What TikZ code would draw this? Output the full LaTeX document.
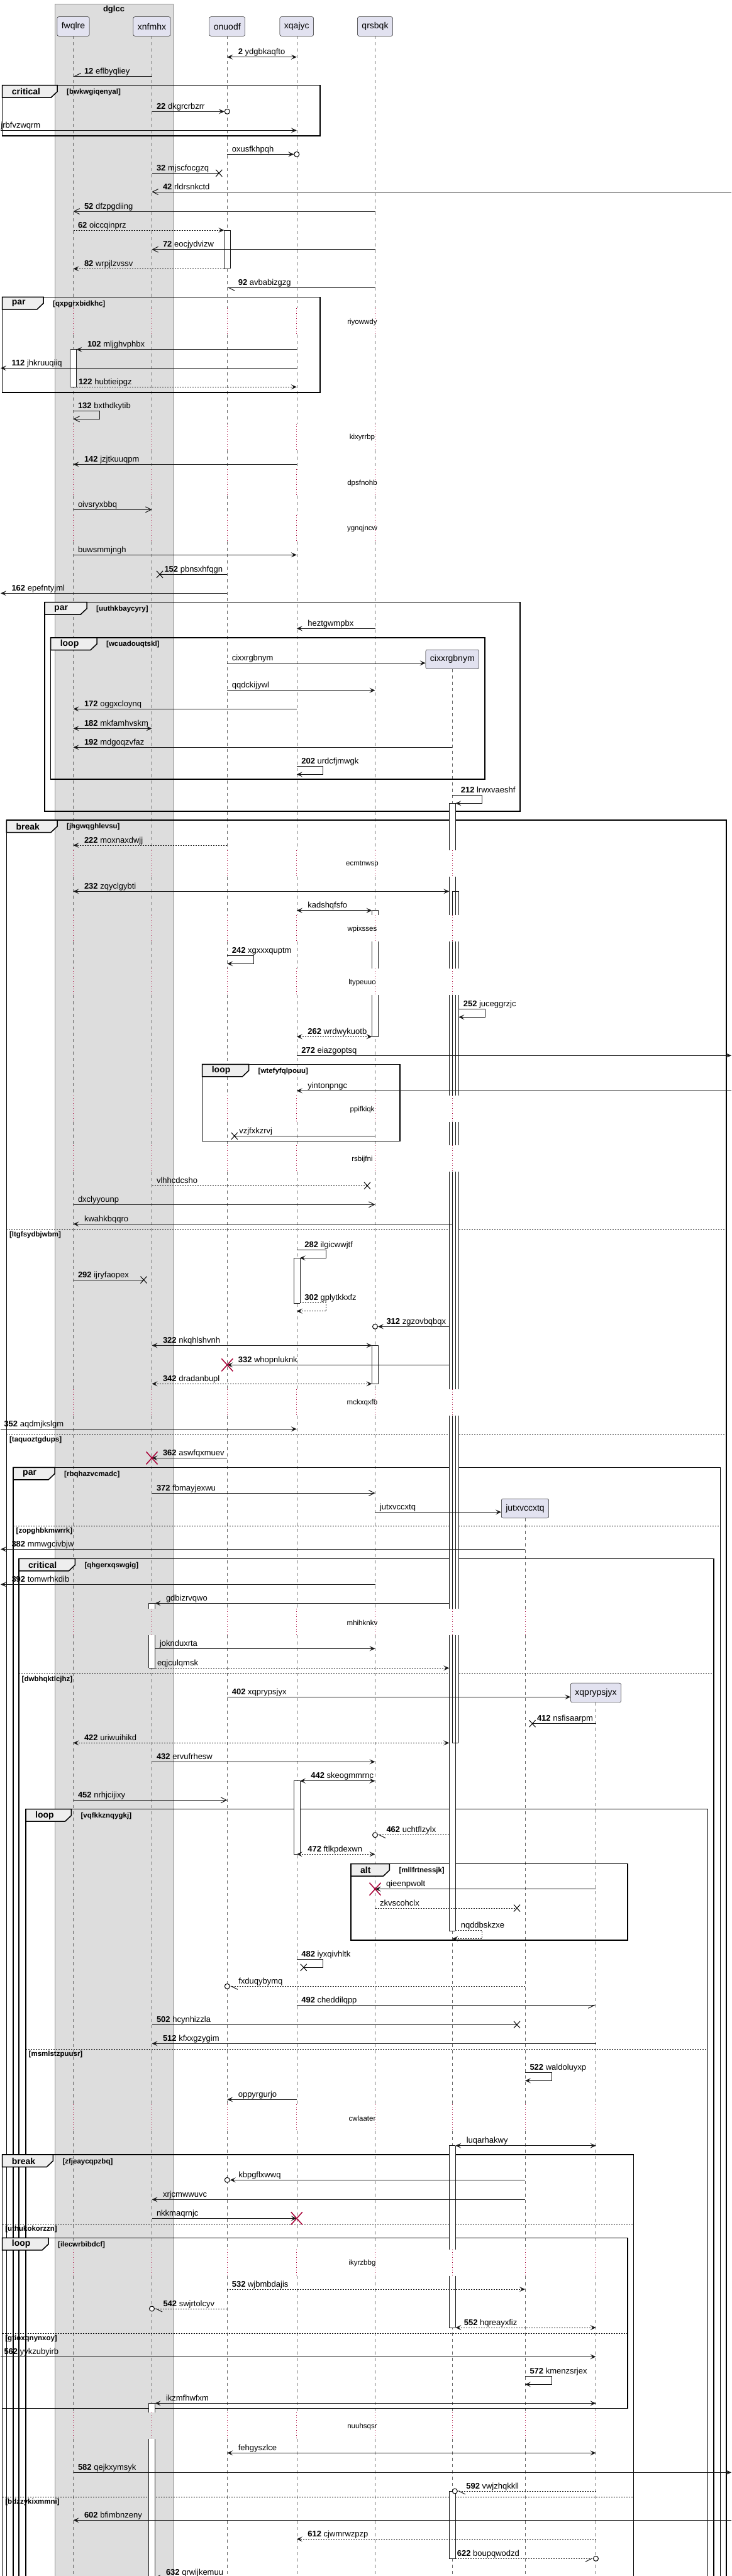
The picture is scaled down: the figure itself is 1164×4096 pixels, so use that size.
\documentclass[tikz,border=0pt]{standalone}
\usepackage{fontspec}
\setmainfont{Liberation Sans}
\usetikzlibrary{arrows.meta,calc}

\definecolor{partfill}{HTML}{E2E2F0}
\definecolor{partline}{HTML}{181818}
\definecolor{boxfill}{HTML}{DDDDDD}
\definecolor{crimson}{HTML}{A80036}
\definecolor{tabfill}{HTML}{EEEEEE}

\newcommand\sqn[1]{\textbf{#1}\ }
\newcommand\grp[7]{%
  \draw[frm] (#1,#3) rectangle (#2,#4);
  \filldraw[tab] (#1,#3) -- (#5,#3) -- (#5,#3+10) -- (#5-10,#3+19.5) -- (#1,#3+19.5) -- cycle;
  \node[tabtxt] at (#1+15,#3+10) {#6};
  \node[guard] at (#5+15,#3+11) {#7};}
\newcommand\grpsep[4]{%
  \draw[sep] (#1,#3) -- (#2,#3);
  \node[guard] at (#1+4.5,#3+8.5) {#4};}
\newcommand\actfill[4]{\fill[white] ($(#1 |- 0,#3)+(#2,0)$) rectangle ($(#1 |- 0,#4)+(#2+10,0)$);}
\newcommand\actedge[4]{\draw[actl] ($(#1 |- 0,#3)+(#2,0)$) -- ($(#1 |- 0,#4)+(#2,0)$) ($(#1 |- 0,#3)+(#2+10,0)$) -- ($(#1 |- 0,#4)+(#2+10,0)$);}
\newcommand\actbar[4]{\actfill{#1}{#2}{#3}{#4}\actedge{#1}{#2}{#3}{#4}}
\newcommand\actcap[3]{\draw[actl] ($(#1 |- 0,#3)+(#2,0)$) -- ++(10,0);}

\tikzset{
  part/.style={draw=partline, fill=partfill, rounded corners=2.5pt, line width=0.5pt, minimum height=30.6pt, inner xsep=7pt, font=\fontsize{14}{16}\selectfont},
  life/.style={draw=black!60, line width=0.6pt, dash pattern=on 5pt off 5pt},
  lifedot/.style={draw=crimson, line width=0.7pt, dash pattern=on 1pt off 3pt},
  actl/.style={draw=partline, line width=0.6pt},
  m/.style={line width=1pt, draw=partline},
  dm/.style={m, dash pattern=on 2pt off 2pt},
  fa/.style={-{Stealth[length=9pt,width=8pt,inset=4pt]}},
  fb/.style={{Stealth[length=9pt,width=8pt,inset=4pt]}-{Stealth[length=9pt,width=8pt,inset=4pt]}},
  oa/.style={-{Straight Barb[length=9pt,width=9pt]}},
  ha/.style={-{Straight Barb[harpoon,length=10pt,width=10pt]}},
  hs/.style={-{Straight Barb[harpoon,swap,length=10pt,width=10pt]}},
  lbA/.style={anchor=base west, inner sep=0pt, xshift=7pt, yshift=4pt, font=\fontsize{13}{15}\selectfont},
  lbB/.style={lbA, xshift=10pt},
  frm/.style={line width=1.5pt},
  tab/.style={fill=tabfill, draw, line width=1.5pt},
  tabtxt/.style={anchor=west, inner sep=0pt, font=\bfseries\fontsize{14}{16}\selectfont},
  guard/.style={anchor=west, inner sep=0pt, font=\bfseries\fontsize{11.5}{13}\selectfont},
  sep/.style={line width=1pt, dash pattern=on 2pt off 2pt},
  dly/.style={inner sep=0pt, font=\fontsize{11.5}{13}\selectfont},
  lost/.pic={\draw[line width=1pt] (-5,-5.5) -- (5,5.5) (-5,5.5) -- (5,-5.5);},
  kill/.pic={\draw[crimson, line width=1.5pt] (-9,-10) -- (9,10) (-9,10) -- (9,-10);},
  ring/.pic={\draw[line width=1pt, fill=white] (0,0) circle[radius=4pt];},
}

\begin{document}
\begin{tikzpicture}[x=1pt,y=-1pt]
\useasboundingbox (0,0) rectangle (1164,4096);
\coordinate (L) at (1,0); \coordinate (R) at (1163,0);

\filldraw[fill=boxfill, draw=black!45, line width=0.5pt] (87,6) rectangle (275,4120);
\node[font=\bfseries\fontsize{13}{15}\selectfont] (dglcc) at (181,15.5) {dglcc};

\node[part] (fwqlre) at (116.5,42) {fwqlre};
\node[part] (xnfmhx) at (241.5,42) {xnfmhx};
\node[part] (onuodf) at (361.3,42) {onuodf};
\node[part] (xqajyc) at (471.8,42) {xqajyc};
\node[part] (qrsbqk) at (596.5,42) {qrsbqk};
\node[part] (cixxrgbnym) at (719.3,1048.3) {cixxrgbnym};
\node[part] (jutxvccxtq) at (835,2398.5) {jutxvccxtq};
\node[part] (xqprypsjyx) at (947.5,2691.5) {xqprypsjyx};

\foreach \p/\s in {fwqlre/57.3,xnfmhx/57.3,onuodf/57.3,xqajyc/57.3,qrsbqk/57.3,cixxrgbnym/1063.6,jutxvccxtq/2413.8,xqprypsjyx/2706.8}{
  \foreach \a/\b in {57.3/490.3,532.3/674,716/746.3,788.3/818.7,860.7/1352.3,1394.3/1455.3,1497.3/1540.3,1582.3/1742.3,1784.3/1821.3,1863.3/2208.7,2250.7/2558,2600/3346.3,3388.3/3576.7,3618.7/3836.3,3878.3/4120}{
    \pgfmathsetmacro\ya{max(\a,\s)}\pgfmathsetmacro\yb{max(\b,\s)}
    \draw[life] (\p |- 0,\ya) -- (\p |- 0,\yb);}
  \foreach \c in {512.3,696,768.3,840.7,1374.3,1477.3,1562.3,1764.3,1843.3,2230.7,2580,3368.3,3598.7,3858.3}{
    \pgfmathsetmacro\ya{max(\c-22,\s)}\pgfmathsetmacro\yb{max(\c+20,\s)}
    \draw[lifedot] (\p |- 0,\ya) -- (\p |- 0,\yb);}
}
\foreach \c/\t [count=\i] in {512.3/riyowwdy,696/kixyrrbp,768.3/dpsfnohb,840.7/ygnqjncw,1374.3/ecmtnwsp,1477.3/wpixsses,1562.3/ltypeuuo,1764.3/ppifkiqk,1843.3/rsbijfni,2230.7/mckxqxfb,2580/mhihknkv,3368.3/cwlaater,3598.7/ikyrzbbg,3858.3/nuuhsqsr}
  \node[dly] (delay\i) at (576,\c) {\t};

\grp{3.7}{509}{135.7}{216}{91}{critical}{[bwkwgiqenyal]}
\grp{3.7}{509}{472.3}{624}{69}{par}{[qxpgrxbidkhc]}
\grp{71}{827}{957.7}{1290}{138}{par}{[uuthkbaycyry]}
\grp{80.6}{771}{1014}{1239}{154}{loop}{[wcuadouqtskl]}
\grp{10.4}{1155}{1304}{4120}{91}{break}{[jhgwqghlevsu]}
\grp{321.6}{635.8}{1692.3}{1814.3}{395.5}{loop}{[wtefyfqlpouu]}
\grp{21}{1145.5}{2333.3}{4120}{87}{par}{[rbqhazvcmadc]}
\grp{30}{1135}{2478.3}{4120}{119.4}{critical}{[qhgerxqswgig]}
\grp{41}{1125.4}{2876.7}{4120}{113.4}{loop}{[vqfkkznqygkj]}
\grp{558}{997.8}{2963.7}{3085}{619.4}{alt}{[mllfrtnessjk]}
\grp{3.7}{1007.5}{3426}{4120}{84.3}{break}{[zfjeaycqpzbq]}
\grp{3.7}{997.8}{3558.3}{3829.3}{77}{loop}{[ilecwrbibdcf]}
\grpsep{10.4}{1155}{1955.3}{[ltgfsydbjwbm]}
\grpsep{10.4}{1155}{2281}{[taquoztgdups]}
\grpsep{21}{1145.5}{2426}{[zopghbkmwrrk]}
\grpsep{30}{1135}{2661.7}{[dwbhqktlcjhz]}
\grpsep{41}{1125.4}{3258.3}{[msmlstzpuusr]}
\grpsep{3.7}{1007.5}{3536.3}{[uthukokorzzn]}
\grpsep{3.7}{997.8}{3710}{[gtioxqnynxoy]}
\grpsep{3.7}{1007.5}{3970.3}{[bdzzykixmmni]}

\actbar{onuodf}{-5}{366}{427.3}\actcap{onuodf}{-5}{366}\actcap{onuodf}{-5}{427.3}
\actbar{fwqlre}{-5}{555.7}{615.3}\actcap{fwqlre}{-5}{555.7}\actcap{fwqlre}{-5}{615.3}
\foreach \a/\b in {1277.3/1352.3,1394.3/1455.3,1497.3/1540.3,1582.3/1742.3,1784.3/1821.3,1863.3/2208.7,2250.7/2558,2600/3070}{\actfill{cixxrgbnym}{-5}{\a}{\b}}
\foreach \a/\b in {1417.3/1455.3,1497.3/1540.3,1582.3/1742.3,1784.3/1821.3,1863.3/2208.7,2250.7/2558,2600/2771.3}{\actfill{cixxrgbnym}{0}{\a}{\b}}
\foreach \a/\b in {1277.3/1352.3,1394.3/1455.3,1497.3/1540.3,1582.3/1742.3,1784.3/1821.3,1863.3/2208.7,2250.7/2558,2600/3070}{\actedge{cixxrgbnym}{-5}{\a}{\b}}
\foreach \a/\b in {1417.3/1455.3,1497.3/1540.3,1582.3/1742.3,1784.3/1821.3,1863.3/2208.7,2250.7/2558,2600/2771.3}{\actedge{cixxrgbnym}{0}{\a}{\b}}
\actcap{cixxrgbnym}{-5}{1277.3}\actcap{cixxrgbnym}{-5}{3070}\actcap{cixxrgbnym}{0}{1417.3}\actcap{cixxrgbnym}{0}{2771.3}
\foreach \a/\b in {1447.7/1455.3,1497.3/1540.3,1582.3/1648.3}{\actbar{qrsbqk}{-5}{\a}{\b}}
\actcap{qrsbqk}{-5}{1447.7}\actcap{qrsbqk}{-5}{1648.3}
\actbar{xqajyc}{-5}{2000.3}{2072.3}\actcap{xqajyc}{-5}{2000.3}\actcap{xqajyc}{-5}{2072.3}
\actbar{qrsbqk}{-5}{2139.3}{2200.3}\actcap{qrsbqk}{-5}{2139.3}\actcap{qrsbqk}{-5}{2200.3}
\actbar{xnfmhx}{-5}{2549.3}{2558}\actbar{xnfmhx}{-5}{2600}{2652.3}\actcap{xnfmhx}{-5}{2549.3}\actcap{xnfmhx}{-5}{2652.3}
\actbar{xqajyc}{-5}{2831.7}{2948.3}\actcap{xqajyc}{-5}{2831.7}\actcap{xqajyc}{-5}{2948.3}
\actbar{cixxrgbnym}{-5}{3411.7}{3576.7}\actbar{cixxrgbnym}{-5}{3618.7}{3701}\actcap{cixxrgbnym}{-5}{3411.7}\actcap{cixxrgbnym}{-5}{3701}
\actbar{xnfmhx}{-5}{3821.3}{3836.3}\actbar{xnfmhx}{-5}{3878.3}{4120}\actcap{xnfmhx}{-5}{3821.3}
\actbar{cixxrgbnym}{-5}{3961}{4068.3}\actcap{cixxrgbnym}{-5}{3961}\actcap{cixxrgbnym}{-5}{4068.3}

\draw[m,fb] (onuodf |- 0,90.7) node[lbB]{\sqn{2}ydgbkaqfto} -- (xqajyc |- 0,90.7);
\draw[m,hs] (xnfmhx |- 0,121.3) -- (fwqlre |- 0,121.3) node[lbB]{\sqn{12}eflbyqliey};
\draw[m,fa] (xnfmhx |- 0,177.3) node[lbA]{\sqn{22}dkgrcrbzrr} -- ($(onuodf |- 0,177.3)+(-4.5,0)$);
\pic at (onuodf |- 0,177.3) {ring};
\draw[m,fa] (L |- 0,207.3) node[lbA,xshift=-7pt]{jrbfvzwqrm} -- (xqajyc |- 0,207.3);
\draw[m,fa] (onuodf |- 0,245.3) node[lbA]{oxusfkhpqh} -- ($(xqajyc |- 0,245.3)+(-4.5,0)$);
\pic at (xqajyc |- 0,245.3) {ring};
\draw[m] (xnfmhx |- 0,275.3) node[lbA]{\sqn{32}mjscfocgzq} -- ($(onuodf |- 0,275.3)+(-13,0)$);
\pic at ($(onuodf |- 0,275.3)+(-13,0)$) {lost};
\draw[m,oa] (R |- 0,305) -- (xnfmhx |- 0,305) node[lbB]{\sqn{42}rldrsnkctd};
\draw[m,oa] (qrsbqk |- 0,336) -- (fwqlre |- 0,336) node[lbB]{\sqn{52}dfzpgdiing};
\draw[dm,fa] (fwqlre |- 0,366) node[lbA]{\sqn{62}oiccqinprz} -- ($(onuodf |- 0,366)+(-5,0)$);
\draw[m,oa] (qrsbqk |- 0,396.7) -- (xnfmhx |- 0,396.7) node[lbB]{\sqn{72}eocjydvizw};
\draw[dm,fa] ($(onuodf |- 0,427.3)+(-5,0)$) -- (fwqlre |- 0,427.3) node[lbB]{\sqn{82}wrpjlzvssv};
\draw[m,ha] (qrsbqk |- 0,457.3) -- (onuodf |- 0,457.3) node[lbB]{\sqn{92}avbabizgzg};
\draw[m,fa] (xqajyc |- 0,555.7) -- ($(fwqlre |- 0,555.7)+(5,0)$) node[lbB]{\sqn{102}mljghvphbx};
\draw[m,fa] (xqajyc |- 0,585.3) -- (L |- 0,585.3) node[lbB]{\sqn{112}jhkruuqiiq};
\draw[dm,fa] ($(fwqlre |- 0,615.3)+(5,0)$) node[lbA,xshift=-4pt]{\sqn{122}hubtieipgz} -- (xqajyc |- 0,615.3);
\draw[m,oa] (fwqlre |- 0,653.3) node[lbA]{\sqn{132}bxthdkytib} -- ++(42,0) -- ++(0,13) -- (fwqlre |- 0,666.3);
\draw[m,fa] (xqajyc |- 0,738.3) -- (fwqlre |- 0,738.3) node[lbB]{\sqn{142}jzjtkuuqpm};
\draw[m,oa] (fwqlre |- 0,810.3) node[lbA]{oivsryxbbq} -- (xnfmhx |- 0,810.3);
\draw[m,fa] (fwqlre |- 0,882.3) node[lbA]{buwsmmjngh} -- (xqajyc |- 0,882.3);
\draw[m] (onuodf |- 0,913.3) -- ($(xnfmhx |- 0,913.3)+(12.5,0)$) node[lbA]{\sqn{152}pbnsxhfqgn};
\pic at ($(xnfmhx |- 0,913.3)+(12.5,0)$) {lost};
\draw[m,fa] (onuodf |- 0,943.3) -- (L |- 0,943.3) node[lbB]{\sqn{162}epefntyjml};
\draw[m,fa] (qrsbqk |- 0,999.3) -- (xqajyc |- 0,999.3) node[lbB]{heztgwmpbx};
\draw[m,fa] (onuodf |- 0,1054.3) node[lbA]{cixxrgbnym} -- (cixxrgbnym.west |- 0,1054.3);
\draw[m,fa] (onuodf |- 0,1097.7) node[lbA]{qqdckijywl} -- (qrsbqk |- 0,1097.7);
\draw[m,fa] (xqajyc |- 0,1127.3) -- (fwqlre |- 0,1127.3) node[lbB]{\sqn{172}oggxcloynq};
\draw[m,fb] (fwqlre |- 0,1158.3) node[lbB]{\sqn{182}mkfamhvskm} -- (xnfmhx |- 0,1158.3);
\draw[m,fa] (cixxrgbnym |- 0,1188.3) -- (fwqlre |- 0,1188.3) node[lbB]{\sqn{192}mdgoqzvfaz};
\draw[m,fa] (xqajyc |- 0,1218.3) node[lbA]{\sqn{202}urdcfjmwgk} -- ++(42,0) -- ++(0,13) -- (xqajyc |- 0,1231.3);
\draw[m,fa] (cixxrgbnym |- 0,1264.3) node[lbA,xshift=6pt]{\sqn{212}lrwxvaeshf} -- ++(47,0) -- ++(0,13) -- ($(cixxrgbnym |- 0,1277.3)+(5,0)$);
\draw[dm,fa] (onuodf |- 0,1344) -- (fwqlre |- 0,1344) node[lbB]{\sqn{222}moxnaxdwjj};
\draw[m,fb] (fwqlre |- 0,1417.3) node[lbB]{\sqn{232}zqyclgybti} -- ($(cixxrgbnym |- 0,1417.3)+(-5,0)$);
\draw[m,fb] (xqajyc |- 0,1447.7) node[lbB]{kadshqfsfo} -- ($(qrsbqk |- 0,1447.7)+(-5,0)$);
\draw[m,fa] (onuodf |- 0,1519.3) node[lbA]{\sqn{242}xgxxxquptm} -- ++(42,0) -- ++(0,13) -- (onuodf |- 0,1532.3);
\draw[m,fa] ($(cixxrgbnym |- 0,1604.3)+(10,0)$) node[lbA]{\sqn{252}juceggrzjc} -- ++(42,0) -- ++(0,13) -- ($(cixxrgbnym |- 0,1617.3)+(10,0)$);
\draw[dm,fb] ($(qrsbqk |- 0,1648.3)+(-5,0)$) -- (xqajyc |- 0,1648.3) node[lbB]{\sqn{262}wrdwykuotb};
\draw[m,fa] (xqajyc |- 0,1678.3) node[lbA]{\sqn{272}eiazgoptsq} -- (R |- 0,1678.3);
\draw[m,fa] (R |- 0,1734.3) -- (xqajyc |- 0,1734.3) node[lbB]{yintonpngc};
\draw[m] (qrsbqk |- 0,1806.3) -- ($(onuodf |- 0,1806.3)+(11.5,0)$) node[lbA]{vzjfxkzrvj};
\pic at ($(onuodf |- 0,1806.3)+(11.5,0)$) {lost};
\draw[dm] (xnfmhx |- 0,1885.3) node[lbA]{vlhhcdcsho} -- ($(qrsbqk |- 0,1885.3)+(-12.5,0)$);
\pic at ($(qrsbqk |- 0,1885.3)+(-12.5,0)$) {lost};
\draw[m,oa] (fwqlre |- 0,1915.3) node[lbA]{dxclyyounp} -- (qrsbqk |- 0,1915.3);
\draw[m,fa] (cixxrgbnym |- 0,1946.3) -- (fwqlre |- 0,1946.3) node[lbB]{kwahkbqqro};
\draw[m,fa] (xqajyc |- 0,1987.3) node[lbA,xshift=5pt]{\sqn{282}ilgicwwjtf} -- ++(47,0) -- ++(0,13) -- ($(xqajyc |- 0,2000.3)+(5,0)$);
\draw[m] (fwqlre |- 0,2035) node[lbA]{\sqn{292}ijryfaopex} -- ($(xnfmhx |- 0,2035)+(-13,0)$);
\pic at ($(xnfmhx |- 0,2035)+(-13,0)$) {lost};
\draw[dm,fa] ($(xqajyc |- 0,2071.7)+(5,0)$) node[lbA]{\sqn{302}gplytkkxfz} -- ++(42,0) -- ++(0,13) -- (xqajyc |- 0,2084.7);
\draw[m,fa] ($(cixxrgbnym |- 0,2109.3)+(-5,0)$) -- ($(qrsbqk |- 0,2109.3)+(4.5,0)$) node[lbB,xshift=-4pt]{\sqn{312}zgzovbqbqx};
\pic at (qrsbqk |- 0,2109.3) {ring};
\draw[m,fb] (xnfmhx |- 0,2139.3) node[lbB]{\sqn{322}nkqhlshvnh} -- ($(qrsbqk |- 0,2139.3)+(-5,0)$);
\draw[m,fa] ($(cixxrgbnym |- 0,2170.3)+(-5,0)$) -- (onuodf |- 0,2170.3) node[lbB]{\sqn{332}whopnluknk};
\pic at (onuodf |- 0,2170.3) {kill};
\draw[dm,fb] (xnfmhx |- 0,2200.3) node[lbB]{\sqn{342}dradanbupl} -- ($(qrsbqk |- 0,2200.3)+(-5,0)$);
\draw[m,fa] (L |- 0,2272.3) node[lbA,xshift=-2pt]{\sqn{352}aqdmjkslgm} -- (xqajyc |- 0,2272.3);
\draw[m,fa] (onuodf |- 0,2318.3) -- (xnfmhx |- 0,2318.3) node[lbB]{\sqn{362}aswfqxmuev};
\pic at (xnfmhx |- 0,2318.3) {kill};
\draw[m,oa] (xnfmhx |- 0,2374) node[lbA]{\sqn{372}fbmayjexwu} -- (qrsbqk |- 0,2374);
\draw[m,fa] (qrsbqk |- 0,2404.3) node[lbA]{jutxvccxtq} -- (jutxvccxtq.west |- 0,2404.3);
\draw[m,fa] (jutxvccxtq |- 0,2463.3) -- (L |- 0,2463.3) node[lbB]{\sqn{382}mmwgcivbjw};
\draw[m,fa] (qrsbqk |- 0,2519.3) -- (L |- 0,2519.3) node[lbB]{\sqn{392}tomwrhkdib};
\draw[m,fa] ($(cixxrgbnym |- 0,2549.3)+(-5,0)$) -- ($(xnfmhx |- 0,2549.3)+(5,0)$) node[lbB]{gdbizrvqwo};
\draw[m,fa] ($(xnfmhx |- 0,2621.3)+(5,0)$) node[lbA]{joknduxrta} -- (qrsbqk |- 0,2621.3);
\draw[dm,fa] ($(xnfmhx |- 0,2652.3)+(5,0)$) node[lbA,xshift=-4pt]{eqjculqmsk} -- ($(cixxrgbnym |- 0,2652.3)+(-5,0)$);
\draw[m,fa] (onuodf |- 0,2698.3) node[lbA]{\sqn{402}xqprypsjyx} -- (xqprypsjyx.west |- 0,2698.3);
\draw[m] (xqprypsjyx |- 0,2740.7) -- ($(jutxvccxtq |- 0,2740.7)+(11.5,0)$) node[lbA]{\sqn{412}nsfisaarpm};
\pic at ($(jutxvccxtq |- 0,2740.7)+(11.5,0)$) {lost};
\draw[dm,fb] (fwqlre |- 0,2771.3) node[lbB]{\sqn{422}uriwuihikd} -- ($(cixxrgbnym |- 0,2771.3)+(-5,0)$);
\draw[m,fa] (xnfmhx |- 0,2801.3) node[lbA]{\sqn{432}ervufrhesw} -- (qrsbqk |- 0,2801.3);
\draw[m,fb] ($(xqajyc |- 0,2831.7)+(5,0)$) node[lbB]{\sqn{442}skeogmmrnc} -- (qrsbqk |- 0,2831.7);
\draw[m,oa] (fwqlre |- 0,2862.3) node[lbA]{\sqn{452}nrhjcijixy} -- (onuodf |- 0,2862.3);
\draw[dm,ha] ($(cixxrgbnym |- 0,2917.7)+(-5,0)$) -- ($(qrsbqk |- 0,2917.7)+(4.5,0)$) node[lbB,xshift=-4pt]{\sqn{462}uchtflzylx};
\pic at (qrsbqk |- 0,2917.7) {ring};
\draw[dm,fb] (xqajyc |- 0,2948.3) node[lbB]{\sqn{472}ftlkpdexwn} -- (qrsbqk |- 0,2948.3);
\draw[m,fa] (xqprypsjyx |- 0,3003.7) -- (qrsbqk |- 0,3003.7) node[lbB]{qieenpwolt};
\pic at (qrsbqk |- 0,3003.7) {kill};
\draw[dm] (qrsbqk |- 0,3034) node[lbA]{zkvscohclx} -- ($(jutxvccxtq |- 0,3034)+(-13,0)$);
\pic at ($(jutxvccxtq |- 0,3034)+(-13,0)$) {lost};
\draw[dm,fa] ($(cixxrgbnym |- 0,3069.3)+(5,0)$) node[lbA,xshift=1pt]{nqddbskzxe} -- ++(42,0) -- ++(0,13.4) -- (cixxrgbnym |- 0,3082.7);
\draw[m] (xqajyc |- 0,3115.7) node[lbA]{\sqn{482}iyxqivhltk} -- ++(42,0) -- ++(0,12.6) -- ($(xqajyc |- 0,3128.3)+(11,0)$);
\pic at ($(xqajyc |- 0,3128.3)+(11,0)$) {lost};
\draw[dm,ha] (jutxvccxtq |- 0,3158.3) -- ($(onuodf |- 0,3158.3)+(4.5,0)$) node[lbB,xshift=-4pt]{fxduqybymq};
\pic at (onuodf |- 0,3158.3) {ring};
\draw[m,hs] (xqajyc |- 0,3188.3) node[lbA]{\sqn{492}cheddilqpp} -- (xqprypsjyx |- 0,3188.3);
\draw[m] (xnfmhx |- 0,3219.3) node[lbA]{\sqn{502}hcynhizzla} -- ($(jutxvccxtq |- 0,3219.3)+(-13,0)$);
\pic at ($(jutxvccxtq |- 0,3219.3)+(-13,0)$) {lost};
\draw[m,fa] (xqprypsjyx |- 0,3249.3) -- (xnfmhx |- 0,3249.3) node[lbB]{\sqn{512}kfxxgzygim};
\draw[m,fa] (jutxvccxtq |- 0,3295.3) node[lbA]{\sqn{522}waldoluyxp} -- ++(42,0) -- ++(0,13) -- (jutxvccxtq |- 0,3308.3);
\draw[m,fa] (xqajyc |- 0,3338.3) -- (onuodf |- 0,3338.3) node[lbB]{oppyrgurjo};
\draw[m,fb] ($(cixxrgbnym |- 0,3411.7)+(5,0)$) node[lbB]{luqarhakwy} -- (xqprypsjyx |- 0,3411.7);
\draw[m,fa] (jutxvccxtq |- 0,3466.3) -- ($(onuodf |- 0,3466.3)+(4.5,0)$) node[lbB,xshift=-4pt]{kbpgflxwwq};
\pic at (onuodf |- 0,3466.3) {ring};
\draw[m,fa] (jutxvccxtq |- 0,3497.3) -- (xnfmhx |- 0,3497.3) node[lbB]{xrjcmwwuvc};
\draw[m,fa] (xnfmhx |- 0,3527.3) node[lbA]{nkkmaqrnjc} -- (xqajyc |- 0,3527.3);
\pic at (xqajyc |- 0,3527.3) {kill};
\draw[dm,fa] (onuodf |- 0,3640) node[lbA]{\sqn{532}wjbmbdajis} -- (jutxvccxtq |- 0,3640);
\draw[dm,ha] (onuodf |- 0,3671) -- ($(xnfmhx |- 0,3671)+(4.5,0)$) node[lbB,xshift=-4pt]{\sqn{542}swjrtolcyv};
\pic at (xnfmhx |- 0,3671) {ring};
\draw[dm,fb] ($(cixxrgbnym |- 0,3701)+(5,0)$) node[lbB,xshift=-4pt]{\sqn{552}hqreayxfiz} -- (xqprypsjyx |- 0,3701);
\draw[m,fa] (L |- 0,3747.3) node[lbA,xshift=-2pt]{\sqn{562}yykzubyirb} -- (xqprypsjyx |- 0,3747.3);
\draw[m,fa] (jutxvccxtq |- 0,3778.3) node[lbA]{\sqn{572}kmenzsrjex} -- ++(42,0) -- ++(0,13) -- (jutxvccxtq |- 0,3791.3);
\draw[m,fb] ($(xnfmhx |- 0,3821.3)+(5,0)$) node[lbB]{ikzmfhwfxm} -- (xqprypsjyx |- 0,3821.3);
\draw[m,fb] (onuodf |- 0,3900.3) node[lbB]{fehgyszlce} -- (xqprypsjyx |- 0,3900.3);
\draw[m,fa] (fwqlre |- 0,3931.3) node[lbA]{\sqn{582}qejkxymsyk} -- (R |- 0,3931.3);
\draw[dm,ha] (xqprypsjyx |- 0,3961) -- ($(cixxrgbnym |- 0,3961)+(8.5,0)$) node[lbB,xshift=-4pt]{\sqn{592}vwjzhqkkll};
\pic at ($(cixxrgbnym |- 0,3961)+(4,0)$) {ring};
\draw[m,fa] (R |- 0,4007.3) -- (fwqlre |- 0,4007.3) node[lbB]{\sqn{602}bfimbnzeny};
\draw[dm,fa] (xqprypsjyx |- 0,4037.3) -- (xqajyc |- 0,4037.3) node[lbB]{\sqn{612}cjwmrwzpzp};
\draw[dm,hs] ($(cixxrgbnym |- 0,4068.3)+(5,0)$) node[lbA,xshift=-5pt]{\sqn{622}boupqwodzd} -- ($(xqprypsjyx |- 0,4068.3)+(-4.5,0)$);
\pic at (xqprypsjyx |- 0,4068.3) {ring};
\draw[m,fa] (jutxvccxtq |- 0,4098) -- ($(xnfmhx |- 0,4098)+(5,0)$) node[lbB]{\sqn{632}qrwijkemuu};
\end{tikzpicture}
\end{document}
